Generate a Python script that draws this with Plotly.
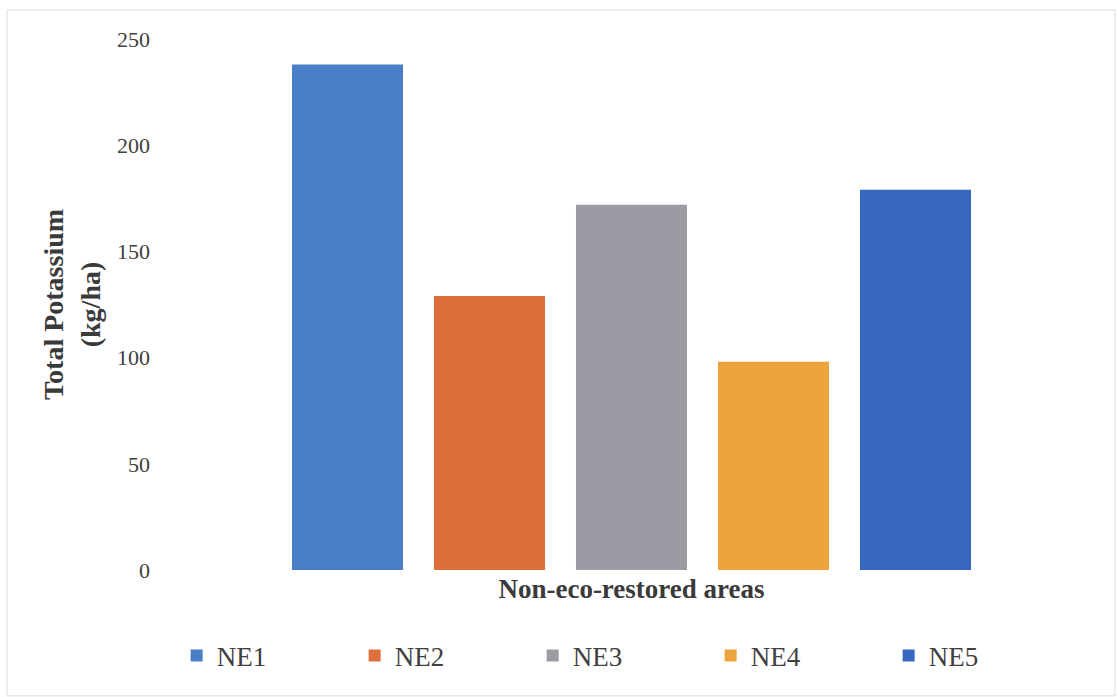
import plotly.graph_objects as go

category = ["Non-eco-restored areas"]
series_names = ["NE1", "NE2", "NE3", "NE4", "NE5"]
values = [238, 129, 172, 98, 179]
colors = ["#4A7EC6", "#DE6E3B", "#9A9BA3", "#EEA43C", "#3867C2"]
y_ticks = [0, 50, 100, 150, 200, 250]

FONT = "Liberation Serif"

fig = go.Figure()
for name, v, c in zip(series_names, values, colors):
    fig.add_trace(go.Bar(x=category, y=[v], name=name, marker=dict(color=c, line=dict(width=0))))

fig.update_layout(
    width=1118, height=697,
    margin=dict(l=155, r=10, t=39, b=127),
    paper_bgcolor="white", plot_bgcolor="white",
    barmode="group", bargap=0.255, bargroupgap=0.218,
    font=dict(family=FONT, color="#404040"),
    showlegend=True,
    legend=dict(orientation="h", xref="container", yref="container",
                x=0.158, y=0.059, xanchor="left", yanchor="middle",
                font=dict(size=27, family=FONT, color="#404040"),
                entrywidth=133, entrywidthmode="pixels",
                bgcolor="rgba(0,0,0,0)"),
    xaxis=dict(showgrid=False, showline=False, zeroline=False, ticks="",
               tickfont=dict(size=27, family=FONT, color="#3a3a3a", weight="bold")),
    yaxis=dict(range=[0, 250], tickvals=y_ticks, showgrid=False, showline=False,
               zeroline=False, ticks="", ticklabelstandoff=4,
               tickfont=dict(size=22, family=FONT, color="#404040"),
               title=dict(text="Total Potassium<br>(kg/ha)", standoff=8,
                          font=dict(size=28, family=FONT, color="#3a3a3a", weight="bold"))),
    shapes=[dict(type="rect", xref="paper", yref="paper",
                 x0=-0.1553, x1=1.0073, y0=-0.237, y1=1.0546,
                 line=dict(color="#dcdcdc", width=1), fillcolor="rgba(0,0,0,0)", layer="below")],
)

fig.write_html("out.html")
